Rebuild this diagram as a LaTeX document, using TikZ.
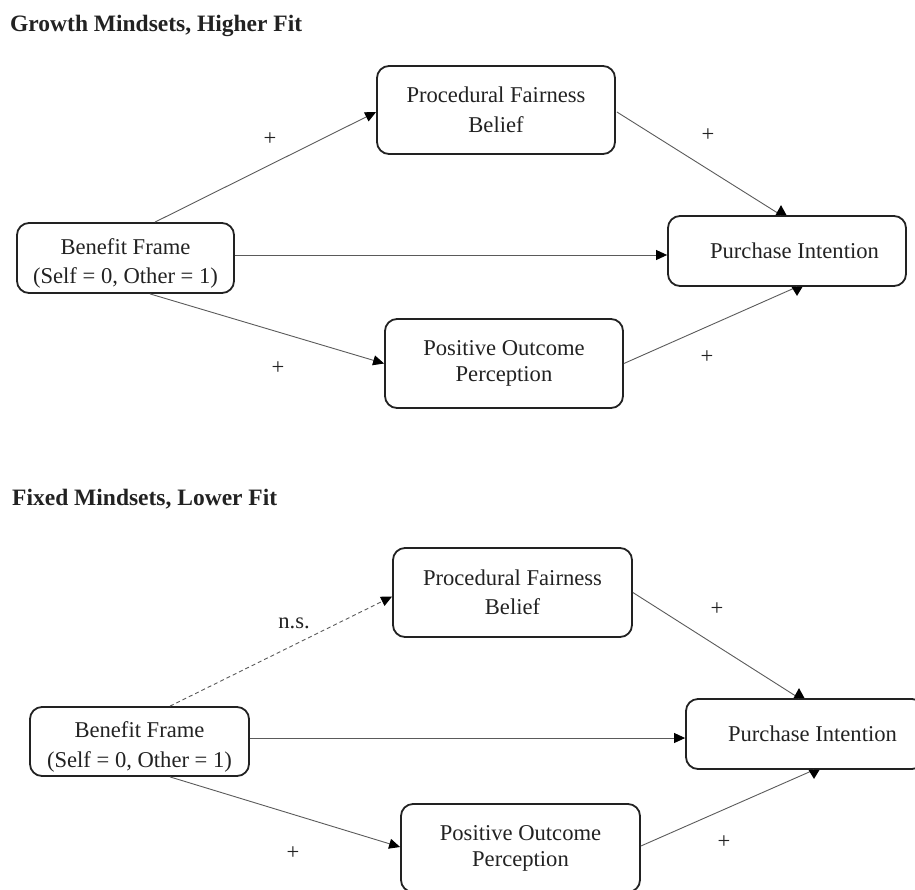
\documentclass[tikz,border=0pt]{standalone}
\usepackage{fontspec}
\setmainfont{Liberation Serif}
\usetikzlibrary{arrows.meta,calc}
\definecolor{boxline}{HTML}{222222}
\definecolor{conline}{HTML}{5A5A5A}
\definecolor{txtc}{HTML}{222222}
\begin{document}
\begin{tikzpicture}[x=1pt,y=-1pt,
  box/.style={draw=boxline, line width=1.8pt, rounded corners=12pt, align=center,
    inner sep=0pt, text=txtc, font=\fontsize{22.6pt}{29pt}\selectfont},
  plainline/.style={draw=conline, line width=0.9pt},
  conn/.style={plainline, -{Triangle[length=11pt,width=10pt,color=black]}},
  nsline/.style={conn, dash pattern=on 4pt off 3pt},
  headfill/.style={fill=black},
  lbl/.style={inner sep=0pt, text=txtc, font=\fontsize{22.6pt}{29pt}\selectfont},
  ttl/.style={inner sep=0pt, anchor=base west, text=txtc, font=\fontsize{23.5pt}{28pt}\selectfont\bfseries}
]
\useasboundingbox (0,0) rectangle (915,889);

% ---------- Top panel ----------
\node[ttl] (ttl1) at (10,31) {Growth Mindsets, Higher Fit};

\node[box, minimum width=217pt, minimum height=70pt] (bf1) at (125.5,258)
  {\rule{0pt}{26pt}Benefit Frame\\(Self = 0, Other = 1)};
\node[box, minimum width=238pt, minimum height=88pt] (pf1) at (496,110)
  {Procedural Fairness\\[1pt]Belief};
\node[box, minimum width=238pt, minimum height=89pt] (po1) at (504,363.5)
  {Positive Outcome\\[-3pt]Perception};
\node[box, minimum width=238pt, minimum height=70pt] (pi1) at (787,251)
  {\hspace*{15pt}Purchase Intention};

\draw[conn] ($(bf1.north)+(29.5,0)$) -- ($(pf1.west)+(0,2)$);
\coordinate (h1) at ($(bf1.east)+(0,-3)$);
\draw[conn] (h1) -- (h1 -| pi1.west);
\draw[conn] ($(bf1.south)+(24.5,0)$) -- (po1.west);

\coordinate (t1) at ($(pi1.north)+(-6,0)$);
\draw[plainline] ($(pf1.east)+(1,2)$) -- (t1);
\fill[headfill] ($(t1)+(-5.5,0)$) -- ($(t1)+(5.5,0)$) -- ($(t1)+(0,-10)$) -- cycle;
\coordinate (b1) at ($(pi1.south)+(10,0)$);
\draw[plainline] (po1.east) -- (b1);
\fill[headfill] ($(b1)+(-5.5,0)$) -- ($(b1)+(5.5,0)$) -- ($(b1)+(0,9)$) -- cycle;

\node[lbl] (l1) at (270,139) {+};
\node[lbl] (l2) at (708,135) {+};
\node[lbl] (l3) at (707,357) {+};
\node[lbl] (l4) at (278,368) {+};

% ---------- Bottom panel ----------
\node[ttl] (ttl2) at (12,505) {Fixed Mindsets, Lower Fit};

\node[box, minimum width=219pt, minimum height=69pt] (bf2) at (139.5,741.5)
  {\rule{0pt}{26pt}Benefit Frame\\[1pt](Self = 0, Other = 1)};
\node[box, minimum width=239pt, minimum height=89pt] (pf2) at (512.5,592.5)
  {Procedural Fairness\\Belief};
\node[box, minimum width=239pt, minimum height=88pt] (po2) at (520.5,848)
  {Positive Outcome\\[-3pt]Perception};
\node[box, minimum width=238pt, minimum height=70pt] (pi2) at (805,734)
  {\hspace*{15pt}Purchase Intention};

\draw[nsline] ($(bf2.north)+(30.5,0)$) -- ($(pf2.west)+(0,4)$);
\coordinate (h2) at ($(bf2.east)+(0,-3.5)$);
\draw[conn] (h2) -- (h2 -| pi2.west);
\draw[conn] ($(bf2.south)+(30.5,0)$) -- ($(po2.west)+(0,-1)$);

\coordinate (t2) at ($(pi2.north)+(-6,0)$);
\draw[plainline] (pf2.east) -- (t2);
\fill[headfill] ($(t2)+(-5.5,0)$) -- ($(t2)+(5.5,0)$) -- ($(t2)+(0,-10)$) -- cycle;
\coordinate (b2) at ($(pi2.south)+(9,0)$);
\draw[plainline] ($(po2.east)+(0,-2)$) -- (b2);
\fill[headfill] ($(b2)+(-5.5,0)$) -- ($(b2)+(5.5,0)$) -- ($(b2)+(0,9)$) -- cycle;

\node[lbl] (l5) at (294,623) {n.s.};
\node[lbl] (l6) at (293,853) {+};
\node[lbl] (l7) at (717,609) {+};
\node[lbl] (l8) at (724,842) {+};
\end{tikzpicture}
\end{document}
